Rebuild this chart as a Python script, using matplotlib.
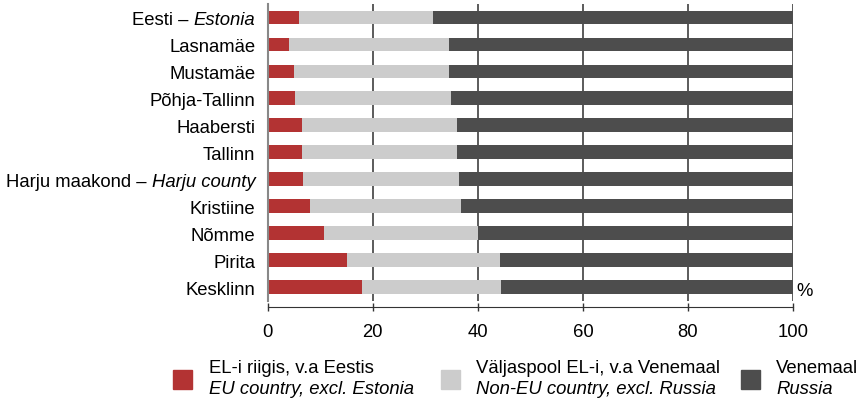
import matplotlib
matplotlib.use("Agg")
import matplotlib.pyplot as plt
from matplotlib.patches import Rectangle
import numpy as np

plt.rcParams['font.family'] = ['Liberation Sans', 'DejaVu Sans']

categories = ["Eesti – Estonia", "Lasnamäe", "Mustamäe", "Põhja-Tallinn", "Haabersti",
              "Tallinn", "Harju maakond – Harju county", "Kristiine", "Nõmme", "Pirita", "Kesklinn"]
label_plain = ["Eesti – ", "Lasnamäe", "Mustamäe", "Põhja-Tallinn", "Haabersti",
               "Tallinn", "Harju maakond – ", "Kristiine", "Nõmme", "Pirita", "Kesklinn"]
label_italic = ["Estonia", "", "", "", "", "", "Harju county", "", "", "", ""]

eu = [5.9, 4.0, 5.0, 5.2, 6.5, 6.5, 6.7, 8.0, 10.7, 15.0, 18.0]
non_eu = [25.6, 30.5, 29.5, 29.7, 29.5, 29.5, 29.7, 28.8, 29.3, 29.2, 26.4]
russia = [68.5, 65.5, 65.5, 65.1, 64.0, 64.0, 63.6, 63.2, 60.0, 55.8, 55.6]

xticks = [0, 20, 40, 60, 80, 100]

c_eu, c_non, c_ru = "#B33333", "#CCCCCC", "#4D4D4D"
fs = 13.3

fig = plt.figure(figsize=(8.61, 4.02), dpi=100)
ax = fig.add_axes([0.311, 0.25, 0.610, 0.738])

y = np.arange(len(categories))
eu_a = np.array(eu); non_a = np.array(non_eu); ru_a = np.array(russia)
ax.barh(y, eu_a, height=0.5, color=c_eu, zorder=3)
ax.barh(y, non_a, left=eu_a, height=0.5, color=c_non, zorder=3)
ax.barh(y, ru_a, left=eu_a + non_a, height=0.5, color=c_ru, zorder=3)

ax.set_xlim(0, 100)
ax.set_ylim(len(categories) - 0.5, -0.5)
ax.set_xticks(xticks)
ax.set_xticklabels([str(t) for t in xticks])
for t in xticks[1:]:
    ax.axvline(t, color="#404040", lw=1.2, zorder=1)

ax.set_yticks(y)
ax.set_yticklabels([])
ax.tick_params(axis='y', length=0)
ax.tick_params(axis='x', direction='inout', length=6, width=1, color="#333333", pad=8,
               labelsize=fs)

for s in ['top', 'right']:
    ax.spines[s].set_visible(False)
ax.spines['left'].set_color("#888888")
ax.spines['left'].set_linewidth(1.5)
ax.spines['left'].set_zorder(4)
ax.spines['bottom'].set_position(('outward', 5))
ax.spines['bottom'].set_color("#333333")

for i in range(len(categories)):
    if label_italic[i]:
        t_it = ax.annotate(label_italic[i], xy=(0, y[i]), xycoords=ax.get_yaxis_transform(),
                           xytext=(-9, 0), textcoords='offset points', ha='right',
                           va='center_baseline', fontsize=fs, style='italic')
        ax.annotate(label_plain[i], xy=(0, 0), xycoords=t_it, ha='right', va='bottom',
                    fontsize=fs)
    else:
        ax.annotate(label_plain[i], xy=(0, y[i]), xycoords=ax.get_yaxis_transform(),
                    xytext=(-9, 0), textcoords='offset points', ha='right',
                    va='center_baseline', fontsize=fs)

ax.text(1.006, 9.8, "%", transform=ax.get_yaxis_transform(), fontsize=fs,
        ha='left', va='top')

# legend
leg_items = [
    (c_eu, "EL-i riigis, v.a Eestis", "EU country, excl. Estonia", 173, 209),
    (c_non, "Väljaspool EL-i, v.a Venemaal", "Non-EU country, excl. Russia", 441, 476),
    (c_ru, "Venemaal", "Russia", 741, 776),
]
W, H = 861, 402
for col, l1, l2, px, tx in leg_items:
    fig.add_artist(Rectangle((px / W, 1 - 390 / H), 19 / W, 19 / H,
                             transform=fig.transFigure, color=col))
    fig.text(tx / W, 1 - 369 / H, l1, fontsize=fs, ha='left', va='center')
    fig.text(tx / W, 1 - 390 / H, l2, fontsize=fs, ha='left', va='center', style='italic')

fig.savefig("out.png", dpi=100)
